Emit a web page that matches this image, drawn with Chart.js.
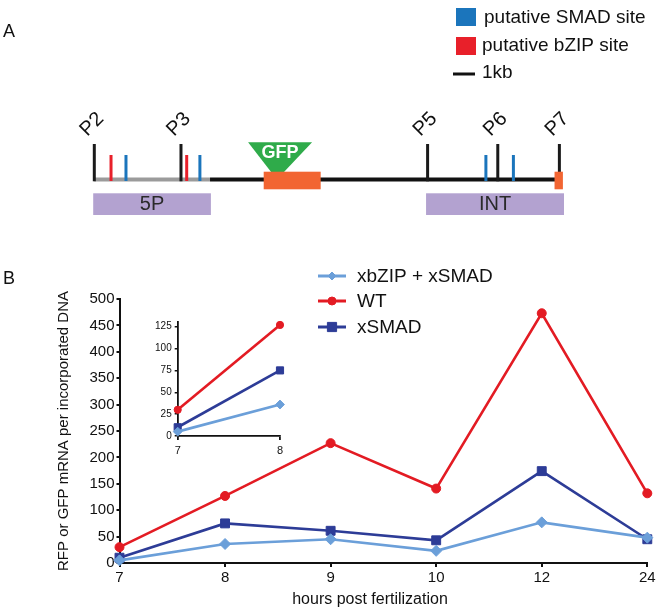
<!DOCTYPE html>
<html><head><meta charset="utf-8">
<script src="https://cdn.jsdelivr.net/npm/chart.js@4.4.1/dist/chart.umd.min.js"></script>
<style>
html,body{margin:0;padding:0;background:#fff;}
#wrap{position:relative;width:672px;height:615px;overflow:hidden;background:#fff;}
#wrap canvas{position:absolute;}
</style></head><body>
<div id="wrap">
<canvas id="main" width="672" height="615" style="left:0;top:0"></canvas>
<canvas id="schem" width="672" height="230" style="left:0;top:0"></canvas>
<canvas id="inset" width="170" height="170" style="left:130px;top:300px"></canvas>
</div>
<script>
// ---------- Panel B data ----------
const hours = ['7', '8', '9', '10', '12', '24'];
const seriesNames = ['xbZIP + xSMAD', 'WT', 'xSMAD'];
const xbzipXsmadValues = [5, 36, 45, 23, 77, 48];
const wtValues = [30, 127, 227, 141, 473, 132];
const xsmadValues = [10, 75, 61, 43, 174, 45];
const yTickValues = [0, 50, 100, 150, 200, 250, 300, 350, 400, 450, 500];
const insetHours = hours.slice(0, 2);
const insetYTickValues = [0, 25, 50, 75, 100, 125];

// ---------- Panel A schematic data (kb from P2) ----------
const promoterNames = ['P2', 'P3', 'P5', 'P6', 'P7'];
const promoterKb = [0, 3.94, 15.15, 18.34, 21.14];
const bzipSiteKb = [0.76, 4.2];
const smadSiteKb = [1.44, 4.8, 17.8, 19.05];
const regionNames = ['5P', 'INT'];
const regionStartKb = [-0.05, 15.08];
const regionEndKb = [5.3, 21.35];
const exonStartKb = [7.7, 20.92];
const exonEndKb = [10.29, 21.3];
const upstreamKb = [0, 5.26];
const transgeneKb = [5.26, 20.94];
const gfpInsertKb = [6.99, 9.9, 8.3];

const FONT = "'Liberation Sans', Arial, Helvetica, sans-serif";
const RED = '#e31b23', DARK = '#2d3c97', LIGHT = '#6b9fd9';
const styles = [
  {color: LIGHT, pointStyle: 'rectRot', r: 5.5},
  {color: RED, pointStyle: 'circle', r: 4.5},
  {color: DARK, pointStyle: 'rect', r: 6.3}
];
const valuesBySeries = [xbzipXsmadValues, wtValues, xsmadValues];

function drawMarker(ctx, style, x, y, r) {
  ctx.save();
  ctx.fillStyle = style; ctx.strokeStyle = style; ctx.lineWidth = 1;
  const H = (window.Chart && Chart.helpers) ? Chart.helpers : null;
  if (H && H.drawPoint) {
    H.drawPoint(ctx, {pointStyle: style.ps, rotation: 0, radius: r, borderWidth: 1}, x, y);
  }
  ctx.restore();
}
function marker(ctx, ps, color, x, y, r) {
  ctx.save();
  ctx.fillStyle = color; ctx.strokeStyle = color; ctx.lineWidth = 1;
  ctx.beginPath();
  if (ps === 'circle') { ctx.arc(x, y, r, 0, Math.PI * 2); }
  else if (ps === 'rect') { const s = r * Math.SQRT1_2; ctx.rect(x - s, y - s, 2 * s, 2 * s); }
  else { ctx.moveTo(x, y - r); ctx.lineTo(x + r, y); ctx.lineTo(x, y + r); ctx.lineTo(x - r, y); ctx.closePath(); }
  ctx.fill(); ctx.stroke();
  ctx.restore();
}

function makeDatasets(sliceN, scale) {
  return seriesNames.map((name, i) => ({
    label: name,
    data: sliceN ? valuesBySeries[i].slice(0, sliceN) : valuesBySeries[i],
    borderColor: styles[i].color,
    backgroundColor: styles[i].color,
    pointStyle: styles[i].pointStyle,
    pointRadius: styles[i].r * scale,
    pointBorderWidth: 1,
    borderWidth: 2.6,
    tension: 0,
    clip: false
  }));
}

// ---------- Main chart ----------
const mainPlugin = {
  id: 'mainDecor',
  afterDraw(chart) {
    const ctx = chart.ctx;
    ctx.save();
    ctx.fillStyle = '#111';
    ctx.font = '18px ' + FONT;
    ctx.textAlign = 'left'; ctx.textBaseline = 'alphabetic';
    ctx.fillText('B', 3, 284);
    // x title
    ctx.font = '16px ' + FONT;
    ctx.textAlign = 'center'; ctx.textBaseline = 'middle';
    ctx.fillText('hours post fertilization', 370, 600);
    // legend
    const ys = [276, 301, 327];
    seriesNames.forEach((name, i) => {
      const y = ys[i];
      ctx.strokeStyle = styles[i].color; ctx.lineWidth = 3;
      ctx.beginPath(); ctx.moveTo(318, y); ctx.lineTo(346, y); ctx.stroke();
      marker(ctx, styles[i].pointStyle, styles[i].color, 332, y, i === 2 ? 6.5 : 4);
      ctx.fillStyle = '#111';
      ctx.font = '19px ' + FONT;
      ctx.textAlign = 'left'; ctx.textBaseline = 'middle';
      ctx.fillText(name, 357, y + 1);
    });
    ctx.restore();
  }
};

new Chart(document.getElementById('main'), {
  type: 'line',
  data: {labels: hours, datasets: makeDatasets(0, 1)},
  options: {
    responsive: false, animation: false, devicePixelRatio: 1,
    layout: {padding: {top: 299, right: 24.7, left: 0, bottom: 0}},
    plugins: {legend: {display: false}, tooltip: {enabled: false}},
    scales: {
      x: {
        offset: false,
        afterFit(s) { s.height = 52; },
        border: {display: true, color: '#111', width: 2},
        grid: {display: true, drawOnChartArea: false, drawTicks: true, tickLength: 4, color: '#111', lineWidth: 2},
        ticks: {color: '#111', font: {size: 15, family: FONT}, padding: 2, maxRotation: 0}
      },
      y: {
        min: yTickValues[0], max: yTickValues[yTickValues.length - 1],
        afterFit(s) { s.width = 119.5; },
        afterBuildTicks(s) { s.ticks = yTickValues.map(v => ({value: v})); },
        border: {display: true, color: '#111', width: 2},
        grid: {display: true, drawOnChartArea: false, drawTicks: true, tickLength: 3, color: '#111', lineWidth: 2},
        ticks: {color: '#111', font: {size: 15, family: FONT}, padding: 2},
        title: {display: true, text: 'RFP or GFP mRNA per incorporated DNA', color: '#111',
                font: {size: 15, family: FONT}, padding: {top: 55, bottom: 0}}
      }
    }
  },
  plugins: [mainPlugin]
});

// ---------- Inset chart ----------
new Chart(document.getElementById('inset'), {
  type: 'line',
  data: {labels: insetHours, datasets: makeDatasets(2, 0.8)},
  options: {
    responsive: false, animation: false, devicePixelRatio: 1,
    layout: {padding: {top: 22.3, right: 20, left: 0, bottom: 0}},
    plugins: {legend: {display: false}, tooltip: {enabled: false}},
    scales: {
      x: {
        offset: false,
        afterFit(s) { s.height = 34; },
        border: {display: true, color: '#111', width: 1.8},
        grid: {display: true, drawOnChartArea: false, drawTicks: true, tickLength: 4, color: '#111', lineWidth: 1.8},
        ticks: {color: '#111', font: {size: 11, family: FONT}, padding: 4, maxRotation: 0}
      },
      y: {
        min: 0, max: 130,
        afterFit(s) { s.width = 47.7; },
        afterBuildTicks(s) { s.ticks = insetYTickValues.map(v => ({value: v})); },
        border: {display: true, color: '#111', width: 1.8},
        grid: {display: true, drawOnChartArea: false, drawTicks: true, tickLength: 3, color: '#111', lineWidth: 1.5},
        ticks: {color: '#111', font: {size: 10, family: FONT}, padding: 3}
      }
    }
  }
});

// ---------- Panel A schematic ----------
const schemPlugin = {
  id: 'schematic',
  afterDraw(chart) {
    const ctx = chart.ctx;
    const xs = chart.scales.x, ys = chart.scales.y;
    const X = v => xs.getPixelForValue(v), Y = v => ys.getPixelForValue(v);
    ctx.save();
    // panel letter
    ctx.fillStyle = '#111'; ctx.font = '18px ' + FONT;
    ctx.textAlign = 'left'; ctx.textBaseline = 'alphabetic';
    ctx.fillText('A', 3, 37);
    // legend
    ctx.fillStyle = '#1b75bc'; ctx.fillRect(456, 8, 20, 18);
    ctx.fillStyle = '#e8202a'; ctx.fillRect(456, 37, 20, 18);
    ctx.strokeStyle = '#111'; ctx.lineWidth = 3;
    ctx.beginPath(); ctx.moveTo(453, 74); ctx.lineTo(453 + (X(1) - X(0)), 74); ctx.stroke();
    ctx.fillStyle = '#111'; ctx.font = '19px ' + FONT; ctx.textBaseline = 'middle';
    ctx.fillText('putative SMAD site', 484, 18);
    ctx.fillText('putative bZIP site', 482, 46);
    ctx.fillText('1kb', 482, 73);
    // region boxes
    regionNames.forEach((n, i) => {
      const x0 = X(regionStartKb[i]), x1 = X(regionEndKb[i]);
      ctx.fillStyle = '#b3a2d0';
      ctx.fillRect(x0, Y(-13.8), x1 - x0, Y(-35.5) - Y(-13.8));
      ctx.fillStyle = '#2a2a2a'; ctx.font = '20px ' + FONT;
      ctx.textAlign = 'center'; ctx.textBaseline = 'middle';
      ctx.fillText(n, (x0 + x1) / 2, Y(-24.8));
    });
    // backbone
    ctx.lineWidth = 4; ctx.lineCap = 'butt';
    ctx.strokeStyle = '#9b9b9b';
    ctx.beginPath(); ctx.moveTo(X(upstreamKb[0]), Y(0)); ctx.lineTo(X(upstreamKb[1]), Y(0)); ctx.stroke();
    ctx.strokeStyle = '#111';
    ctx.beginPath(); ctx.moveTo(X(transgeneKb[0]), Y(0)); ctx.lineTo(X(transgeneKb[1]), Y(0)); ctx.stroke();
    // sites
    ctx.lineWidth = 3;
    ctx.strokeStyle = '#e8202a';
    bzipSiteKb.forEach(k => { ctx.beginPath(); ctx.moveTo(X(k), Y(-1.5)); ctx.lineTo(X(k), Y(24.5)); ctx.stroke(); });
    ctx.strokeStyle = '#1b75bc';
    smadSiteKb.forEach(k => { ctx.beginPath(); ctx.moveTo(X(k), Y(-1.5)); ctx.lineTo(X(k), Y(24.5)); ctx.stroke(); });
    // promoters
    ctx.strokeStyle = '#1a1a1a';
    promoterKb.forEach((k, i) => {
      ctx.beginPath(); ctx.moveTo(X(k), Y(-1.8)); ctx.lineTo(X(k), Y(35.5)); ctx.stroke();
      ctx.save();
      ctx.translate(X(k) - 7, Y(35.5) - 7);
      ctx.rotate(-Math.PI / 4);
      ctx.fillStyle = '#111'; ctx.font = '20px ' + FONT;
      ctx.textAlign = 'left'; ctx.textBaseline = 'alphabetic';
      ctx.fillText(promoterNames[i], 0, 0);
      ctx.restore();
    });
    // GFP insertion
    ctx.fillStyle = '#2fab4a';
    ctx.beginPath();
    ctx.moveTo(X(gfpInsertKb[0]), Y(37.2)); ctx.lineTo(X(gfpInsertKb[1]), Y(37.2)); ctx.lineTo(X(gfpInsertKb[2]), Y(0));
    ctx.closePath(); ctx.fill();
    ctx.fillStyle = '#fff'; ctx.font = 'bold 18px ' + FONT;
    ctx.textAlign = 'center'; ctx.textBaseline = 'middle';
    ctx.fillText('GFP', X((gfpInsertKb[0] + gfpInsertKb[1]) / 2), Y(26));
    // exons
    ctx.fillStyle = '#f26532';
    exonStartKb.forEach((k, i) => {
      const x0 = X(k), x1 = X(exonEndKb[i]);
      ctx.fillRect(x0, Y(7.8), x1 - x0, Y(-9.8) - Y(7.8));
    });
    ctx.restore();
  }
};

new Chart(document.getElementById('schem'), {
  type: 'scatter',
  data: {datasets: []},
  options: {
    responsive: false, animation: false, devicePixelRatio: 1,
    layout: {padding: 0},
    plugins: {legend: {display: false}, tooltip: {enabled: false}},
    scales: {
      x: {type: 'linear', display: false, min: -94.3 / 22, max: -94.3 / 22 + 672 / 22},
      y: {type: 'linear', display: false, min: -50.5, max: 179.5}
    }
  },
  plugins: [schemPlugin]
});
</script>
</body></html>
